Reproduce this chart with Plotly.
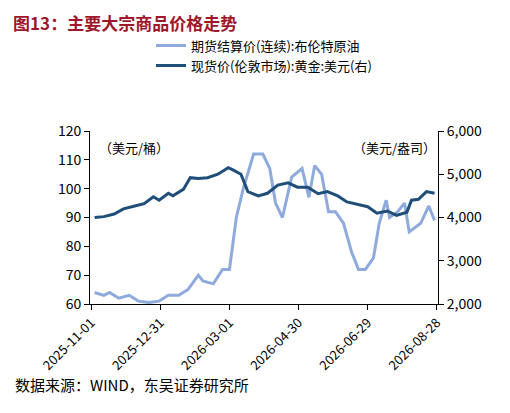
import pandas as pd
import plotly.graph_objects as go

START = pd.Timestamp("2025-11-01")

# days after 2025-11-01
brent_days = [3, 11, 16, 24, 33, 41, 50, 59, 67, 76, 84, 93, 97, 106, 114, 120, 126,
              132, 141, 149, 155, 160, 166, 174, 183, 189, 194, 200, 206, 212, 219, 226,
              232, 238, 245, 250, 256, 259, 266, 272, 276, 286, 293, 298]
brent_vals = [64, 63, 64, 62, 63, 61, 60.5, 61, 63, 63, 65, 70, 68, 67, 72, 72, 90,
              100, 112, 112, 107, 95, 90, 104, 107, 97, 108, 105, 92, 92, 88, 78,
              72, 72, 76, 88, 96, 90, 92, 95, 85, 88, 94, 89]

gold_days = [3, 11, 20, 28, 37, 46, 54, 59, 67, 71, 80, 86, 93, 101, 110, 119, 123,
             130, 136, 145, 153, 162, 171, 179, 188, 197, 205, 214, 222, 231, 240, 248,
             257, 265, 274, 278, 284, 291, 298]
gold_vals = [4000, 4020, 4080, 4200, 4260, 4320, 4480, 4400, 4560, 4500, 4650, 4920,
             4900, 4920, 5000, 5150, 5100, 5000, 4600, 4500, 4560, 4750, 4800, 4700,
             4700, 4550, 4600, 4500, 4360, 4300, 4250, 4100, 4150, 4050, 4120, 4400,
             4420, 4600, 4560]

tick_labels = ["2025-11-01", "2025-12-31", "2026-03-01", "2026-04-30", "2026-06-29", "2026-08-28"]

to_dates = lambda days: [START + pd.Timedelta(days=d) for d in days]

fig = go.Figure()
fig.add_trace(go.Scatter(x=to_dates(brent_days), y=brent_vals, mode="lines",
                         name="期货结算价(连续):布伦特原油",
                         line=dict(color="#8faadc", width=3)))
fig.add_trace(go.Scatter(x=to_dates(gold_days), y=gold_vals, mode="lines", yaxis="y2",
                         name="现货价(伦敦市场):黄金:美元(右)",
                         line=dict(color="#1f4e79", width=3)))

font = "Noto Sans CJK SC"
axis_common = dict(showgrid=False, showline=True, linecolor="black", ticks="outside",
                   tickcolor="black", tickfont=dict(size=14, color="black"), zeroline=False)

fig.update_layout(
    width=510, height=413, template="plotly_white",
    font=dict(family=font, color="black"),
    margin=dict(l=82, r=80, t=123, b=117),
    title=dict(text="<b>图13：主要大宗商品价格走势</b>", x=0.01, y=0.975,
               font=dict(size=17, color="#a0162b")),
    legend=dict(x=0.5, xanchor="center", y=1.58, yanchor="top", font=dict(size=13),
                bgcolor="rgba(0,0,0,0)", tracegroupgap=8),
    xaxis=dict(**{**axis_common, "tickfont": dict(size=13, color="black")}, type="date",
               tickvals=pd.to_datetime(tick_labels), ticktext=tick_labels,
               tickangle=-45, range=[START - pd.Timedelta(days=1), pd.Timestamp("2026-08-29")]),
    yaxis=dict(**axis_common, range=[60, 120], dtick=10),
    yaxis2=dict(**axis_common, overlaying="y", side="right", range=[2000, 6000],
                dtick=1000, tickformat=","),
    annotations=[
        dict(text="（美元/桶）", x=0.02, y=0.97, xref="paper", yref="paper",
             showarrow=False, xanchor="left", font=dict(size=13)),
        dict(text="（美元/盎司）", x=1.0, y=0.97, xref="paper", yref="paper",
             showarrow=False, xanchor="right", font=dict(size=13)),
        dict(text="数据来源：WIND，东吴证券研究所", x=-0.22, y=-0.54, xref="paper",
             yref="paper", showarrow=False, xanchor="left", font=dict(size=15)),
    ],
)

fig.write_html("out.html")
